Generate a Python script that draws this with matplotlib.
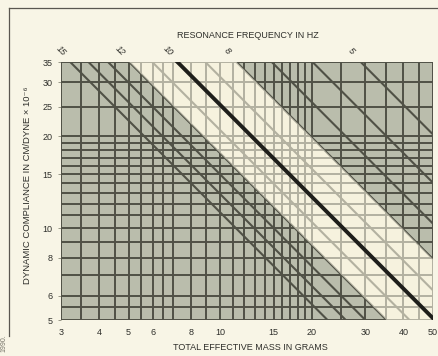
import numpy as np
import matplotlib
matplotlib.use("Agg")
import matplotlib.pyplot as plt
from matplotlib.lines import Line2D

plt.rcParams['font.family'] = ['Liberation Sans', 'DejaVu Sans']

# grid values (grams, cm/dyne x 1e-6)
mass_grid = [3, 3.5, 4, 4.5, 5, 5.5, 6, 6.5, 7, 8, 9, 10, 11, 12, 13, 14, 15,
             16, 17, 18, 19, 20, 25, 30, 35, 40, 45, 50]
compliance_grid = [5, 5.5, 6, 7, 8, 9, 10, 11, 12, 13, 14, 15, 16, 17, 18, 19,
                   20, 25, 30, 35]

mass_ticks = [3, 4, 5, 6, 8, 10, 15, 20, 30, 40, 50]
compliance_ticks = [5, 6, 8, 10, 15, 20, 25, 30, 35]

# resonance frequency lines (Hz)
freq_lines = [5, 6, 7, 8, 9, 10, 11, 12, 13, 14, 15]
freq_labels = [15, 12, 10, 8, 5]
band_low, band_high = 8, 12
bold_freq = 10

GREY = '#babdac'
CREAM = '#f6f2de'
INK = '#505146'
TEXT = '#2e2e2a'


def compliance_at(f, m):
    # f = 1 / (2 pi sqrt(M C)), C in 1e-6 cm/dyne
    return (1e6 / (2 * np.pi * f) ** 2) / m


fig = plt.figure(figsize=(4.39, 3.56), dpi=100)
fig.patch.set_facecolor('#f8f5e6')
ax = fig.add_axes([61 / 439, 1 - 320 / 356, 372 / 439, 258 / 356])
ax.set_xscale('log')
ax.set_yscale('log')
ax.set_xlim(3, 50)
ax.set_ylim(5, 35)
ax.set_facecolor(GREY)
for s in ax.spines.values():
    s.set_visible(False)

m = np.geomspace(2.5, 60, 300)
ax.fill_between(m, compliance_at(band_high, m), compliance_at(band_low, m),
                color=CREAM, lw=0, zorder=0.5)

ax.vlines(mass_grid, 5, 35, color=INK, lw=1.4, zorder=2)
ax.hlines(compliance_grid, 3, 50, color=INK, lw=1.4, zorder=2)

for f in freq_lines:
    if f == bold_freq:
        continue
    ax.plot(m, compliance_at(f, m), color=INK, lw=1.5, zorder=2)

# light overlay of the band, lines show through faintly
ax.fill_between(m, compliance_at(band_high, m), compliance_at(band_low, m),
                color=CREAM, alpha=0.6, lw=0, zorder=3)

ax.plot(m, compliance_at(bold_freq, m), color='#1e1e1a', lw=2.8, zorder=4,
        solid_capstyle='butt')

for f in freq_labels:
    mt = 1e6 / (2 * np.pi * f) ** 2 / 35
    ax.annotate(str(f), xy=(mt, 35), xytext=(-6.5, 8), textcoords='offset points',
                ha='center', va='center', rotation=-45, fontsize=6.5,
                fontstyle='italic', color=TEXT, annotation_clip=False)

ax.set_xticks(mass_ticks)
ax.set_xticklabels([str(v) for v in mass_ticks])
ax.set_yticks(compliance_ticks)
ax.set_yticklabels([str(v) for v in compliance_ticks])
ax.xaxis.set_minor_locator(matplotlib.ticker.NullLocator())
ax.yaxis.set_minor_locator(matplotlib.ticker.NullLocator())
ax.tick_params(axis='both', length=2, width=0.6, color='#888877', pad=4,
               labelsize=6.5, labelcolor=TEXT)
ax.tick_params(axis='x', length=0, pad=6)

fig.text(248 / 439, 1 - 35 / 356, 'RESONANCE FREQUENCY IN HZ', ha='center',
         va='center', fontsize=6.5, color=TEXT)
fig.text(250 / 439, 1 - 348 / 356, 'TOTAL EFFECTIVE MASS IN GRAMS', ha='center',
         va='center', fontsize=6.5, color=TEXT)
fig.text(28 / 439, 1 - 185 / 356, 'DYNAMIC COMPLIANCE IN CM/DYNE \u00d7 10\u207b\u2076',
         ha='center', va='center', rotation=90, fontsize=6.8, color=TEXT)
fig.text(4 / 439, 1 - 343 / 356, '1990.', ha='center', va='center', rotation=90,
         fontsize=5, color='#77756a')

# page frame
fig.add_artist(Line2D([9 / 439, 1], [1 - 8 / 356, 1 - 8 / 356], color='#5a5750',
                      lw=0.9, transform=fig.transFigure))
fig.add_artist(Line2D([9 / 439, 9 / 439], [1 - 8 / 356, 1 - 336 / 356],
                      color='#5a5750', lw=0.9, transform=fig.transFigure))

fig.savefig('out.png', dpi=100, facecolor=fig.get_facecolor())
